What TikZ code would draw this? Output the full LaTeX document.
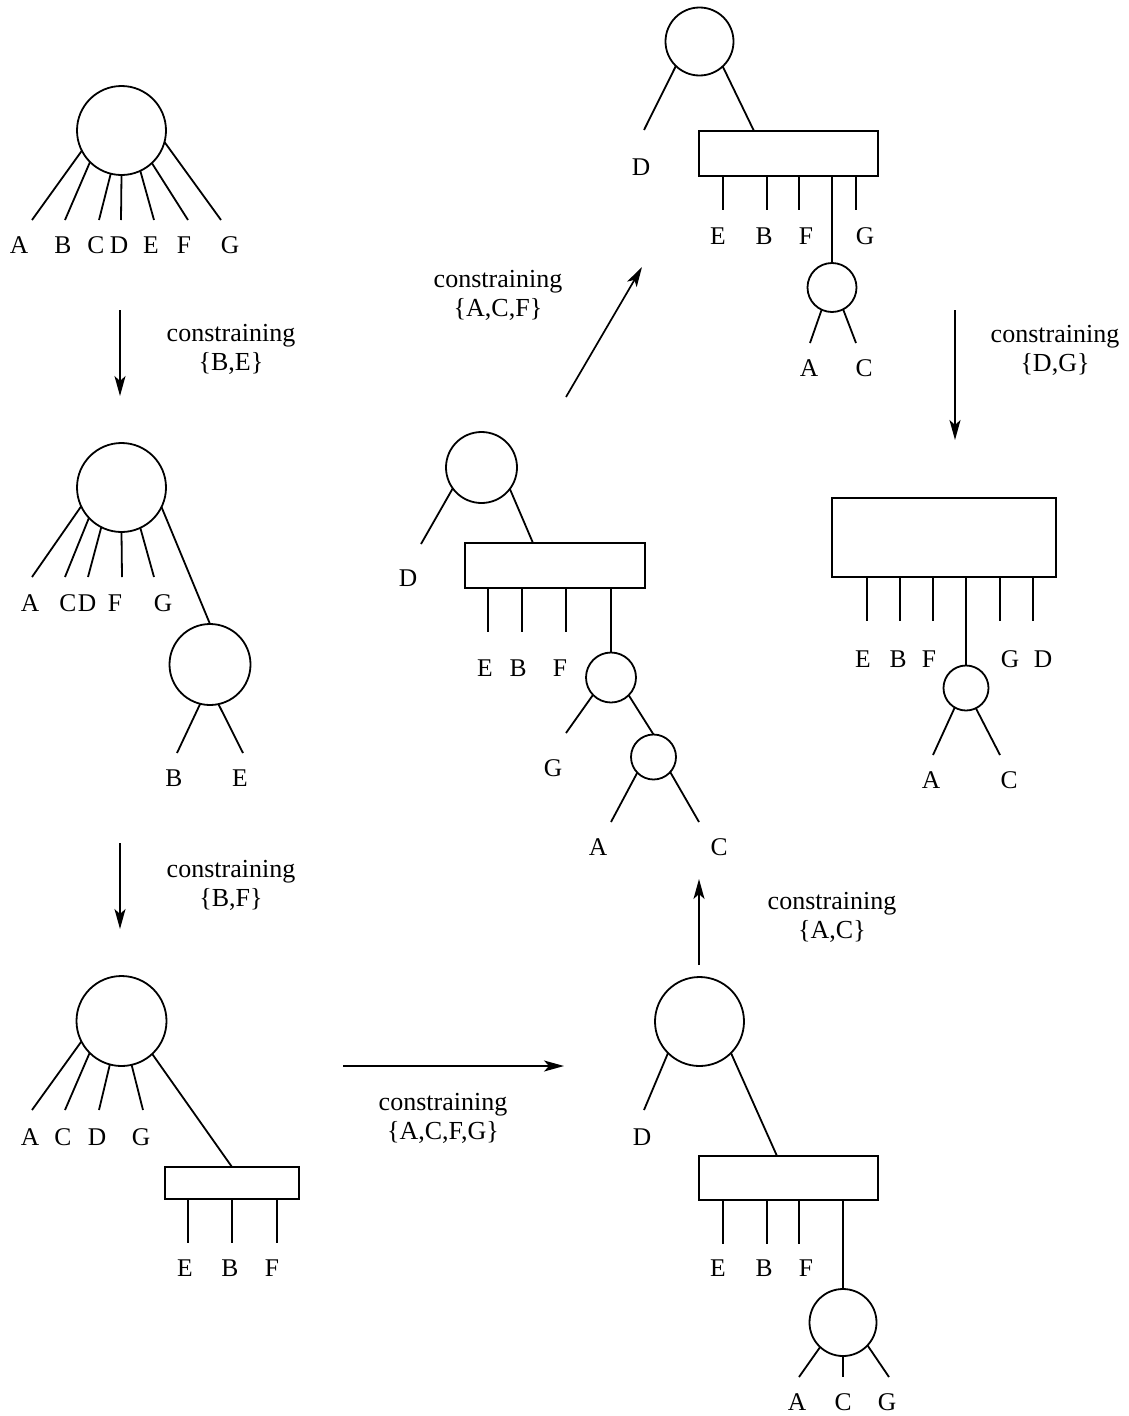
\documentclass[tikz,border=0pt]{standalone}
\usepackage{fontspec}
\setmainfont{Liberation Serif}
\usetikzlibrary{arrows.meta}

% leaf: #1 name, #2 start anchor, #3 free end of the edge, #4 label position, #5 text
\newcommand\leaf[5]{%
  \coordinate (#1e) at (#3);
  \node[lbl] (#1) at (#4) {#5};
  \draw (#2) -- (#1e);}
% tick under a box: #1 name, #2 box, #3 x offset from the box's left side, #4 length, #5 label position, #6 text
\newcommand\tick[6]{%
  \coordinate (#1s) at ([xshift=#3pt]#2.south west);
  \node[lbl] (#1) at (#5) {#6};
  \draw (#1s) -- ++(0,#4);}
% two-line arrow caption: #1 name, #2 position of the first baseline, #3 set
\newcommand\movelabel[3]{%
  \node[movetext] (#1a) at (#2) {constraining};
  \node[movetext] (#1b) at ([yshift=-29pt]#1a.base) {#3};}

\begin{document}
\begin{tikzpicture}[x=1pt,y=-1pt,
  line width=1.8pt,
  every node/.style={font=\fontsize{25.5}{30}\selectfont},
  lbl/.style={inner sep=0pt},
  movetext/.style={inner sep=0pt,anchor=base,font=\fontsize{26}{30}\selectfont},
  vtx/.style={circle,draw,inner sep=0pt,outer sep=0pt,minimum size=#1},
  blk/.style={draw,rectangle,inner sep=0pt,outer sep=0pt,minimum width=#1},
  move/.style={-{Stealth[length=20pt,width=11pt,inset=5pt]},line width=1.7pt}]

\useasboundingbox (0,0) rectangle (1128,1416);

% ---------- tree 1 ----------
\node[vtx=89pt] (c1) at (121.5,130.5) {};
\leaf{t1A}{c1.207}{32,220}{19,245}{A}
\leaf{t1B}{c1.225}{65,220}{63,245}{B}
\leaf{t1C}{c1.256}{99,220}{96,245}{C}
\leaf{t1D}{c1.270}{121,220}{119,245}{D}
\leaf{t1E}{c1.295}{154,220}{151,245}{E}
\leaf{t1F}{c1.313}{188,220}{184,245}{F}
\leaf{t1G}{c1.345}{221,220}{230,245}{G}

% ---------- tree 2 ----------
\node[vtx=89pt] (c2) at (121.5,487.5) {};
\node[vtx=81pt] (c2s) at (210,664.5) {};
\draw (c2.334) -- (c2s.north);
\leaf{t2A}{c2.205}{32,577}{30,603}{A}
\leaf{t2C}{c2.223}{65,577}{68,603}{C}
\leaf{t2D}{c2.243}{88,577}{87,603}{D}
\leaf{t2F}{c2.270}{122,577}{115,603}{F}
\leaf{t2G}{c2.295}{154,577}{163,603}{G}
\leaf{t2B}{c2s.256}{177,753}{174,778}{B}
\leaf{t2E}{c2s.282}{243,753}{240,778}{E}

% ---------- tree 3 ----------
\node[vtx=90pt] (c3) at (121.5,1021) {};
\node[blk=134pt,minimum height=32pt] (b3) at (232,1183) {};
\draw (c3.313) -- (b3.north);
\leaf{t3A}{c3.207}{32,1110}{30,1137}{A}
\leaf{t3C}{c3.225}{65,1110}{63,1137}{C}
\leaf{t3D}{c3.255}{99,1110}{97,1137}{D}
\leaf{t3G}{c3.283}{143,1110}{141,1137}{G}
\tick{t3E}{b3}{23}{44}{185,1268}{E}
\tick{t3B}{b3}{67}{44}{230,1268}{B}
\tick{t3F}{b3}{112}{44}{272,1268}{F}

% ---------- tree 4 ----------
\node[vtx=89pt] (c4) at (699.5,1021.5) {};
\node[blk=179pt,minimum height=44pt] (b4) at (788.5,1178) {};
\node[vtx=67pt] (c4s) at (843,1322.5) {};
\draw (c4.315) -- ([xshift=78pt]b4.north west);
\draw ([xshift=144pt]b4.south west) -- (c4s.north);
\leaf{t4D}{c4.225}{644,1110}{642,1137}{D}
\tick{t4E}{b4}{24}{44}{718,1268}{E}
\tick{t4B}{b4}{68}{44}{764,1268}{B}
\tick{t4F}{b4}{100}{44}{806,1268}{F}
\leaf{t4A}{c4s.227}{799,1377}{797,1402}{A}
\leaf{t4C}{c4s.270}{843,1377}{843,1402}{C}
\leaf{t4G}{c4s.317}{889,1377}{887,1402}{G}

% ---------- tree 5 ----------
\node[vtx=71pt] (c5) at (481.5,467.5) {};
\node[blk=180pt,minimum height=45pt] (b5) at (555,565.5) {};
\node[vtx=50pt] (c5s) at (611,677.5) {};
\node[vtx=45pt] (c5t) at (653.5,757) {};
\draw (c5.323) -- ([xshift=68pt]b5.north west);
\draw ([xshift=146pt]b5.south west) -- (c5s.north);
\draw (c5s.315) -- (c5t.north);
\leaf{t5D}{c5.216}{421,544}{408,578}{D}
\tick{t5E}{b5}{23}{44}{485,668}{E}
\tick{t5B}{b5}{57}{44}{518,668}{B}
\tick{t5F}{b5}{101}{44}{560,668}{F}
\leaf{t5G}{c5s.224}{566,733}{553,768}{G}
\leaf{t5A}{c5t.224}{611,822}{598,847}{A}
\leaf{t5C}{c5t.318}{699,822}{719,847}{C}

% ---------- tree 6 ----------
\node[vtx=68pt] (c6) at (699.5,41.5) {};
\node[blk=179pt,minimum height=45pt] (b6) at (788.5,153.5) {};
\node[vtx=49pt] (c6s) at (832,287.5) {};
\draw (c6.313) -- ([xshift=55pt]b6.north west);
\draw ([xshift=133pt]b6.south west) -- (c6s.north);
\leaf{t6D}{c6.226}{644,130}{641,167}{D}
\tick{t6E}{b6}{24}{34}{718,236}{E}
\tick{t6B}{b6}{68}{34}{764,236}{B}
\tick{t6F}{b6}{100}{34}{806,236}{F}
\tick{t6G}{b6}{157}{34}{865,236}{G}
\leaf{t6A}{c6s.245}{810,343}{809,368}{A}
\leaf{t6C}{c6s.297}{856,343}{864,368}{C}

% ---------- tree 7 ----------
\node[blk=224pt,minimum height=79pt] (b7) at (944,537.5) {};
\node[vtx=45pt] (c7s) at (966,688) {};
\draw ([xshift=134pt]b7.south west) -- (c7s.north);
\tick{t7E}{b7}{35}{44}{863,659}{E}
\tick{t7B}{b7}{68}{44}{898,659}{B}
\tick{t7F}{b7}{101}{44}{929,659}{F}
\tick{t7G}{b7}{168}{44}{1010,659}{G}
\tick{t7D}{b7}{201}{44}{1043,659}{D}
\leaf{t7A}{c7s.240}{933,755}{931,780}{A}
\leaf{t7C}{c7s.296}{1000,755}{1009,780}{C}

% ---------- transitions ----------
\coordinate (m1s) at (120,310);  \coordinate (m1e) at (120,396);
\coordinate (m2s) at (120,843);  \coordinate (m2e) at (120,929);
\coordinate (m3s) at (343,1066); \coordinate (m3e) at (564,1066);
\coordinate (m4s) at (699,965);  \coordinate (m4e) at (699,879);
\coordinate (m5s) at (566,397);  \coordinate (m5e) at (642,267);
\coordinate (m6s) at (955,310);  \coordinate (m6e) at (955,440);
\draw[move] (m1s) -- (m1e);
\draw[move] (m2s) -- (m2e);
\draw[move] (m3s) -- (m3e);
\draw[move] (m4s) -- (m4e);
\draw[move] (m5s) -- (m5e);
\draw[move] (m6s) -- (m6e);

\movelabel{k1}{231,341}{\{B,E\}}
\movelabel{k2}{231,877}{\{B,F\}}
\movelabel{k3}{443,1110}{\{A,C,F,G\}}
\movelabel{k4}{832,909}{\{A,C\}}
\movelabel{k5}{498,287}{\{A,C,F\}}
\movelabel{k6}{1055,342}{\{D,G\}}
\end{tikzpicture}
\end{document}
